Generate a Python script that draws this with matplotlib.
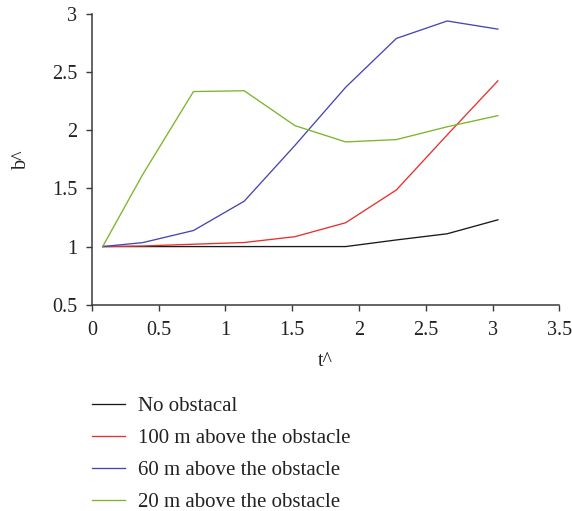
import matplotlib
matplotlib.use("Agg")
import matplotlib.pyplot as plt

# Dimensionless time t^ and dimensionless width b^ for each case
t_hat = [0.08, 0.38, 0.76, 1.14, 1.52, 1.90, 2.28, 2.66, 3.04]

no_obstacle = [1.00, 1.00, 1.00, 1.00, 1.00, 1.00, 1.057, 1.11, 1.23]
above_100m = [1.00, 1.005, 1.02, 1.035, 1.085, 1.205, 1.487, 1.96, 2.425]
above_60m = [1.00, 1.034, 1.138, 1.39, 1.87, 2.37, 2.79, 2.94, 2.87]
above_20m = [1.00, 1.62, 2.333, 2.34, 2.04, 1.90, 1.92, 2.03, 2.126]

labels = ["No obstacal", "100 m above the obstacle",
          "60 m above the obstacle", "20 m above the obstacle"]
colors = ["#1a1a1a", "#e8302c", "#4646b4", "#7bb52a"]

x_ticks = [0, 0.5, 1, 1.5, 2, 2.5, 3, 3.5]
y_ticks = [0.5, 1, 1.5, 2, 2.5, 3]

plt.rcParams["font.family"] = ["Liberation Serif", "DejaVu Serif"]
plt.rcParams["font.size"] = 14.5

fig = plt.figure(figsize=(5.72, 5.11), dpi=100)
ax = fig.add_axes([0.1608, 0.4037, 0.8170, 0.5689])

for y, lab, c in zip([no_obstacle, above_100m, above_60m, above_20m], labels, colors):
    ax.plot(t_hat, y, color=c, lw=0.95, label=lab)

ax.set_xlim(0, 3.5)
ax.set_ylim(0.5, 3)
ax.set_xticks(x_ticks)
ax.set_xticklabels([f"{v:g}" for v in x_ticks])
ax.set_yticks(y_ticks)
ax.set_yticklabels([f"{v:g}" for v in y_ticks])

for s in ["top", "right"]:
    ax.spines[s].set_visible(False)
for s in ["left", "bottom"]:
    ax.spines[s].set_color("#3a3a3a")
    ax.spines[s].set_linewidth(1.1)
ax.tick_params(direction="out", length=4.0, width=1.0, color="#3a3a3a",
               labelcolor="#222222")
ax.tick_params(axis="x", pad=7.5)
ax.tick_params(axis="y", pad=6.5)

ax.set_xlabel("t^", color="#222222", labelpad=9)
ax.set_ylabel("b^", color="#222222")
ax.yaxis.set_label_coords(-0.13, 0.5)

fig.legend(loc="upper left", bbox_to_anchor=(0.161, 0.224), frameon=False,
           fontsize=15, handlelength=1.6, handletextpad=0.62, labelspacing=0.6,
           borderaxespad=0, borderpad=0, labelcolor="#222222")

fig.savefig("out.png", dpi=100)
